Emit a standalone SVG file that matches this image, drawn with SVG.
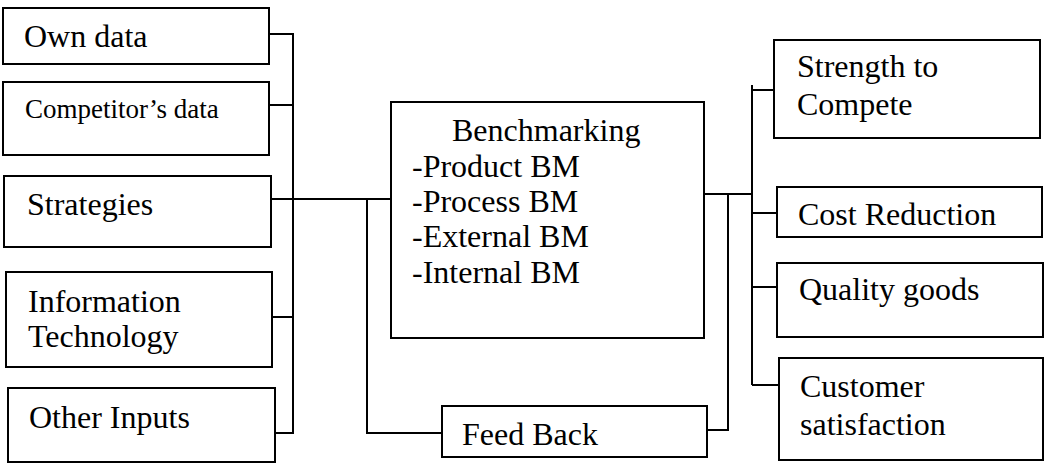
<svg xmlns="http://www.w3.org/2000/svg" width="1045" height="464" viewBox="0 0 1045 464">
<style>
.box{fill:#fff;stroke:#000;stroke-width:2}
.ln{fill:none;stroke:#000;stroke-width:2}
text{font-family:"Liberation Serif","Times New Roman",serif;font-size:32px;fill:#000}
.sm{font-size:27px}
</style>
<rect width="1045" height="464" fill="#fff"/>
<g id="connectors">
<polyline class="ln" points="269,34 293,34 293,433 275,433"/>
<line class="ln" x1="269" y1="105" x2="293" y2="105"/>
<line class="ln" x1="271" y1="199" x2="391" y2="199"/>
<line class="ln" x1="272" y1="317" x2="293" y2="317"/>
<polyline class="ln" points="367,199 367,433 442,433"/>
<line class="ln" x1="704" y1="194" x2="752" y2="194"/>
<polyline class="ln" points="707,430 728,430 728,194"/>
<line class="ln" x1="752" y1="85" x2="752" y2="385"/>
<line class="ln" x1="752" y1="90" x2="774" y2="90"/>
<line class="ln" x1="752" y1="213" x2="777" y2="213"/>
<line class="ln" x1="752" y1="287" x2="777" y2="287"/>
<line class="ln" x1="752" y1="385" x2="779" y2="385"/>
</g>
<g id="own-data"><rect class="box" x="3" y="8" width="266" height="56"/><text x="24" y="47">Own data</text></g>
<g id="competitors-data"><rect class="box" x="3" y="82" width="266" height="73"/><text class="sm" x="25" y="118">Competitor’s data</text></g>
<g id="strategies"><rect class="box" x="4" y="176" width="267" height="71"/><text x="27" y="215">Strategies</text></g>
<g id="information-technology"><rect class="box" x="6" y="272" width="266" height="95"/><text x="28" y="312">Information</text><text x="28" y="347">Technology</text></g>
<g id="other-inputs"><rect class="box" x="8" y="388" width="267" height="74"/><text x="29" y="428">Other Inputs</text></g>
<g id="benchmarking"><rect class="box" x="391" y="102" width="313" height="236"/><text x="452" y="141">Benchmarking</text><text x="412" y="177">-Product BM</text><text x="412" y="212">-Process BM</text><text x="412" y="247">-External BM</text><text x="412" y="283">-Internal BM</text></g>
<g id="feed-back"><rect class="box" x="442" y="406" width="265" height="51"/><text x="462" y="445">Feed Back</text></g>
<g id="strength-to-compete"><rect class="box" x="774" y="40" width="266" height="98"/><text x="797" y="77">Strength to</text><text x="797" y="115">Compete</text></g>
<g id="cost-reduction"><rect class="box" x="777" y="187" width="265" height="50"/><text x="798" y="225">Cost Reduction</text></g>
<g id="quality-goods"><rect class="box" x="777" y="263" width="266" height="74"/><text x="799" y="300">Quality goods</text></g>
<g id="customer-satisfaction"><rect class="box" x="779" y="358" width="264" height="102"/><text x="800" y="397">Customer</text><text x="800" y="435">satisfaction</text></g>
</svg>
